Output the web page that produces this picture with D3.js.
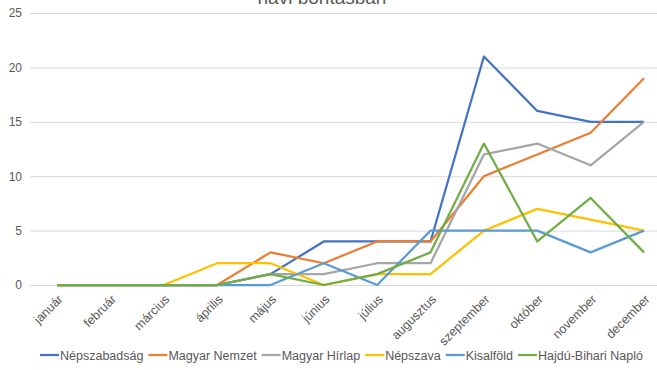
<!DOCTYPE html>
<html>
<meta charset="utf-8">
<style>
  body { margin: 0; background: #fff; }
  svg { width: 657px; height: 370px; font-family: "Liberation Sans", Arial, sans-serif; }
</style>
<body>
  <svg></svg>
</body>
<script src="https://cdn.jsdelivr.net/npm/d3@7"></script>
<script>

  var months = ["január", "február", "március", "április", "május", "június", "július",
                "augusztus", "szeptember", "október", "november", "december"];
  var yTicks = [0, 5, 10, 15, 20, 25];

  var nepszabadsag = [0, 0, 0, 0, 1, 4, 4, 4, 21, 16, 15, 15];
  var magyarNemzet = [0, 0, 0, 0, 3, 2, 4, 4, 10, 12, 14, 19];
  var magyarHirlap = [0, 0, 0, 0, 1, 1, 2, 2, 12, 13, 11, 15];
  var nepszava     = [0, 0, 0, 2, 2, 0, 1, 1, 5, 7, 6, 5];
  var kisalfold    = [0, 0, 0, 0, 0, 2, 0, 5, 5, 5, 3, 5];
  var hajduBihari  = [0, 0, 0, 0, 1, 0, 1, 3, 13, 4, 8, 3];

  var seriesNames = ["Népszabadság", "Magyar Nemzet", "Magyar Hírlap", "Népszava", "Kisalföld", "Hajdú-Bihari Napló"];
  var seriesValues = [nepszabadsag, magyarNemzet, magyarHirlap, nepszava, kisalfold, hajduBihari];
  var colors = ["#4472C4", "#ED7D31", "#A5A5A5", "#FFC000", "#5B9BD5", "#70AD47"];

  var svg = d3.select("svg");

  // title, mostly cropped off the top (as in the source image)
  svg.append("text")
    .attr("x", 322).attr("y", 4)
    .attr("text-anchor", "middle")
    .attr("font-size", 19)
    .attr("fill", "#595959")
    .text("havi bontásban");

  var xScale = d3.scalePoint().domain(months).range([57, 644]);
  var yScale = d3.scaleLinear().domain([0, 25]).range([285, 13]);

  // gridlines
  var yAxis = d3.axisLeft(yScale).tickValues(yTicks).tickSize(-627).tickPadding(8);
  var gy = svg.append("g").attr("transform", "translate(30,0)").call(yAxis);
  gy.select(".domain").remove();
  gy.selectAll("line").attr("stroke", "#d9d9d9").attr("stroke-width", 1);
  gy.selectAll("text").attr("fill", "#595959").attr("font-size", 12).attr("font-family", "Liberation Sans, Arial, sans-serif");

  // x labels
  var xAxis = d3.axisBottom(xScale).tickSize(0).tickPadding(0);
  var gx = svg.append("g").attr("transform", "translate(0,285)").call(xAxis);
  gx.select(".domain").remove();
  gx.selectAll("text")
    .attr("fill", "#595959")
    .attr("font-size", 12.5)
    .attr("font-family", "Liberation Sans, Arial, sans-serif")
    .attr("text-anchor", "end")
    .attr("dy", null)
    .attr("y", 0)
    .attr("transform", "translate(6,15) rotate(-45)");

  var line = d3.line()
    .x(function(d, i) { return xScale(months[i]); })
    .y(function(d) { return yScale(d); });

  svg.selectAll("path.series")
    .data(seriesValues)
    .enter().append("path")
    .attr("class", "series")
    .attr("d", line)
    .attr("fill", "none")
    .attr("stroke", function(d, i) { return colors[i]; })
    .attr("stroke-width", 2.25)
    .attr("stroke-linejoin", "round");

  // legend
  var legend = svg.append("g").attr("transform", "translate(0,355)");
  var lx = 40;
  seriesNames.forEach(function(name, i) {
    legend.append("line")
      .attr("x1", lx).attr("x2", lx + 19)
      .attr("y1", 0).attr("y2", 0)
      .attr("stroke", colors[i]).attr("stroke-width", 2.25);
    var t = legend.append("text")
      .attr("x", lx + 20).attr("y", 4.5)
      .attr("font-size", 12.5)
      .attr("fill", "#595959")
      .text(name);
    lx += 20 + t.node().getComputedTextLength() + 5;
  });

</script>
</html>
